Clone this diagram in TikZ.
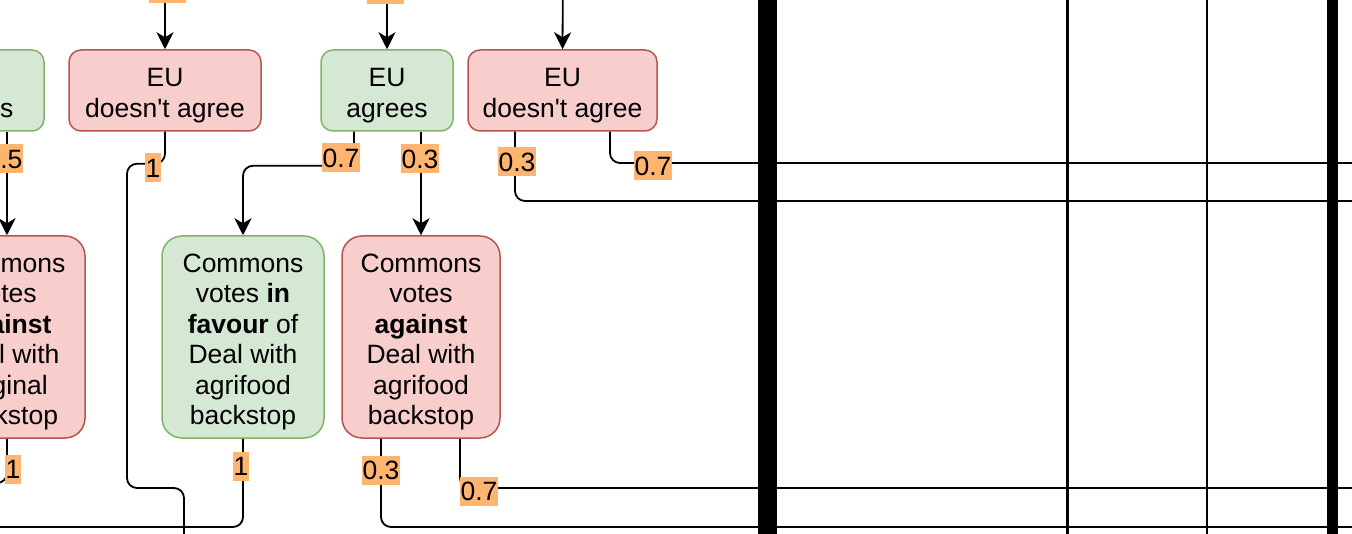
\documentclass[tikz,border=0pt]{standalone}
\usepackage{fontspec}
\setmainfont{Liberation Sans}[Ligatures=TeXOff]
\usetikzlibrary{arrows.meta}

\definecolor{yesFill}{HTML}{D5E8D4}
\definecolor{yesLine}{HTML}{82B366}
\definecolor{noFill}{HTML}{F8CECC}
\definecolor{noLine}{HTML}{B85450}
\definecolor{probFill}{HTML}{FFB570}

% taller first line, so the text sits lower in its box
\newcommand\lift{\rule{0pt}{28.5pt}}

\begin{document}
\begin{tikzpicture}
            [
                x = 1pt, y = 1pt,
                font = \fontsize{26.5}{30.4}\selectfont,
                box/.style  = {shape=rectangle, rounded corners=12pt,
                draw, line width=1.5pt, align=center, inner sep=0pt,
                minimum height=81pt},
                tall/.style = {rounded corners=20pt, minimum height=202pt},
                yes/.style  = {box, draw=yesLine, fill=yesFill},
                no/.style   = {box, draw=noLine, fill=noFill},
                prob/.style = {fill=probFill, inner xsep=0.5pt, inner ysep=0pt,
                minimum height=29pt, minimum width=16pt},
                link/.style = {draw, line width=1.8pt, rounded corners=10pt},
                arr/.style  = {link, -{Stealth[length=17pt, width=17pt, inset=5pt]}}
            ]
            \useasboundingbox (0,0) rectangle (1352,-534);
            \clip (0,0) rectangle (1352,-534);

            % first row
            \node[yes] (agreeOld) at (-27,-90.5)   [minimum width=142pt] {\lift EU\\agrees};
            \node[no]  (euNoA)    at (165,-90.5)   [minimum width=192pt] {\lift EU\\doesn't agree};
            \node[yes] (euYes)    at (387,-90.5)   [minimum width=132pt] {\lift EU\\agrees};
            \node[no]  (euNoB)    at (562.5,-90.5) [minimum width=189pt] {\lift EU\\doesn't agree};

            % second row
            \node[no, tall]  (againstOld)  at (5,-337)   [minimum width=160pt]
                {\lift Commons\\votes\\\textbf{against}\\Deal with\\original\\backstop};
            \node[yes, tall] (favourAgri)  at (243,-337) [minimum width=162pt]
                {\lift Commons\\votes \textbf{in}\\\textbf{favour} of\\Deal with\\agrifood\\backstop};
            \node[no, tall]  (againstAgri) at (421,-337) [minimum width=158pt]
                {\lift Commons\\votes\\\textbf{against}\\Deal with\\agrifood\\backstop};

            % loose ends outside the frame
            \coordinate (inA)  at (165,40);
            \coordinate (inB)  at (387,40);
            \coordinate (inC)  at (563,40);
            \coordinate (outA) at (184,-570);
            \coordinate (outL) at (-30,0);
            \coordinate (outR) at (1390,0);

            % connectors
            \draw[arr]  (inA) -- (euNoA.north);
            \draw[arr]  (inB) -- (euYes.north);
            \draw[arr]  (inC) -- (euNoB.north);
            \draw[arr]  ([xshift=2pt]agreeOld.south -| againstOld.north) -- ([xshift=2pt]againstOld.north);
            \draw[link] (euNoA.south) -- ++(0,-32) -| (127,-488) -| (outA);
            \draw[arr]  ([xshift=-33pt]euYes.south) -- ++(0,-34) -| (favourAgri.north);
            \draw[arr]  (euYes.south -| againstAgri.north) -- (againstAgri.north);
            \draw[link] ([xshift=-47.5pt]euNoB.south) |- (outR |- 0,-201);
            \draw[link] ([xshift=47.5pt]euNoB.south) |- (outR |- 0,-163);
            \draw[link] ([xshift=2pt]againstOld.south) |- (outL |- 0,-483);
            \draw[link] (favourAgri.south) |- (outL |- 0,-527);
            \draw[link] ([xshift=-40pt]againstAgri.south) |- (outR |- 0,-527);
            \draw[link] ([xshift=39pt]againstAgri.south) |- (outR |- 0,-488);

            % probabilities
            \node[prob, minimum width=37pt] (pA) at (167.5,11) {};
            \node[prob, minimum width=37pt] (pB) at (385.5,10) {};
            \node[prob] (pOld)   at (4,-159)   {0.5};
            \node[prob] (pNoA)   at (153,-168) {1};
            \node[prob] (pYes1)  at (341,-158) {0.7};
            \node[prob] (pYes2)  at (420,-159) {0.3};
            \node[prob] (pNoB1)  at (517,-162) {0.3};
            \node[prob] (pNoB2)  at (653,-166) {0.7};
            \node[prob] (pOld2)  at (13,-469)  {1};
            \node[prob] (pFav)   at (241,-466) {1};
            \node[prob] (pAg1)   at (381,-470) {0.3};
            \node[prob] (pAg2)   at (479,-491) {0.7};

            % column rules
            \fill (758,0) rectangle (777,-534);
            \draw[line width=3pt] (1067,0) -- (1067,-534);
            \draw[line width=2pt] (1207,0) -- (1207,-534);
            \fill (1327,0) rectangle (1338,-534);
        \end{tikzpicture}
\end{document}
